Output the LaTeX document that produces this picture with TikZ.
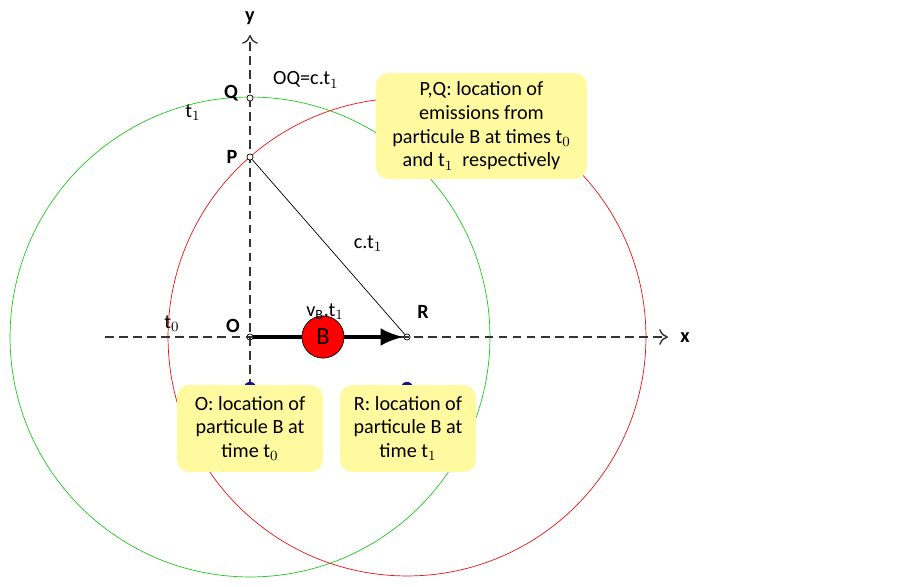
\documentclass[tikz,border=0pt]{standalone}
\usepackage{fontspec}
\setmainfont{Carlito}
\usetikzlibrary{arrows.meta,positioning}
\definecolor{boxfill}{RGB}{255,250,160}
\definecolor{circgreen}{RGB}{30,200,30}
\definecolor{circred}{RGB}{230,20,20}
\definecolor{dotblue}{RGB}{20,20,140}

\begin{document}
\begin{tikzpicture}[x=0.02cm,y=-0.02cm,font=\fontsize{11.5}{13.5}\selectfont]

\tikzset{axis/.style={dash pattern=on 5pt off 3pt,thick,draw=black!80},
callout/.style={fill=boxfill,rounded corners=7pt,align=center,inner sep=4pt},
ptnode/.style={circle,draw,fill=white,inner sep=0pt,minimum size=3.5pt},
lbl/.style={font=\fontsize{11.5}{13.5}\selectfont\bfseries}}

\useasboundingbox (0,0) rectangle (902,587);

% points
\node[ptnode] (O) at (250,337) {};
\node[ptnode] (R) at (407,337) {};
\coordinate (xend) at (668,337);
\coordinate (xstart) at (105,337);
\coordinate (yend) at (250,35);
\coordinate (ybot) at (250,388);

% circles
\draw[circgreen] (O.center) circle[radius=4.8cm];
\draw[circred] (R.center) circle[radius=4.78cm];

% axes
\draw[axis,-{To[length=5pt,width=9pt]}] (xstart) -- (xend);
\draw[axis,-{To[length=5pt,width=9pt]}] (ybot) -- (yend);
\node (xlbl) at (685,338) {\textbf{x}};
\node (ylbl) at (250,18) {\textbf{y}};

\node[ptnode] (Q) at (250,98) {};
\node[ptnode] (P) at (250,157) {};

% dots under the callouts
\fill[dotblue] (ybot) circle[radius=3.5pt];
\coordinate (rbot) at (407,388);
\fill[dotblue] (rbot) circle[radius=3.5pt];

% segment and displacement
\draw (P) -- (R);
\draw[line width=2.2pt,-{Latex[length=13pt,width=10pt]}] (O) -- (R);
\node[circle,draw,fill=red,inner sep=0pt,minimum size=24pt,font=\fontsize{14}{16}\selectfont] (B) at (323,337) {B};

% labels
\node[lbl] (Ql) at (231,93) {Q};
\node[lbl] (Pl) at (232,157) {P};
\node[lbl] (Ol) at (233,326) {O};
\node[lbl] (Rl) at (423,312) {R};
\node (t1l) at (193,113) {t$_1$};
\node (t0l) at (172,324) {t$_0$};
\node[anchor=west] (OQ) at (267,80) {OQ=c.t$_1$};
\node (ct) at (368,244) {c.t$_1$};
\node (vB) at (325,312) {v$_{\mathrm{B}}$.t$_1$};

% callouts
\node[callout,minimum width=2.92cm,minimum height=1.74cm] (cO) at (250,428.5) {O: location of\\particule B at\\time t$_0$};
\node[callout,minimum width=2.72cm,minimum height=1.74cm] (cR) at (408,428.5) {R: location of\\particule B at\\time t$_1$};
\node[callout,minimum width=4.22cm,minimum height=2.12cm] (cPQ) at (481.5,126) {P,Q: location of\\emissions from\\particule B at times t$_0$\\and t$_1$ ~respectively};

\end{tikzpicture}
\end{document}
